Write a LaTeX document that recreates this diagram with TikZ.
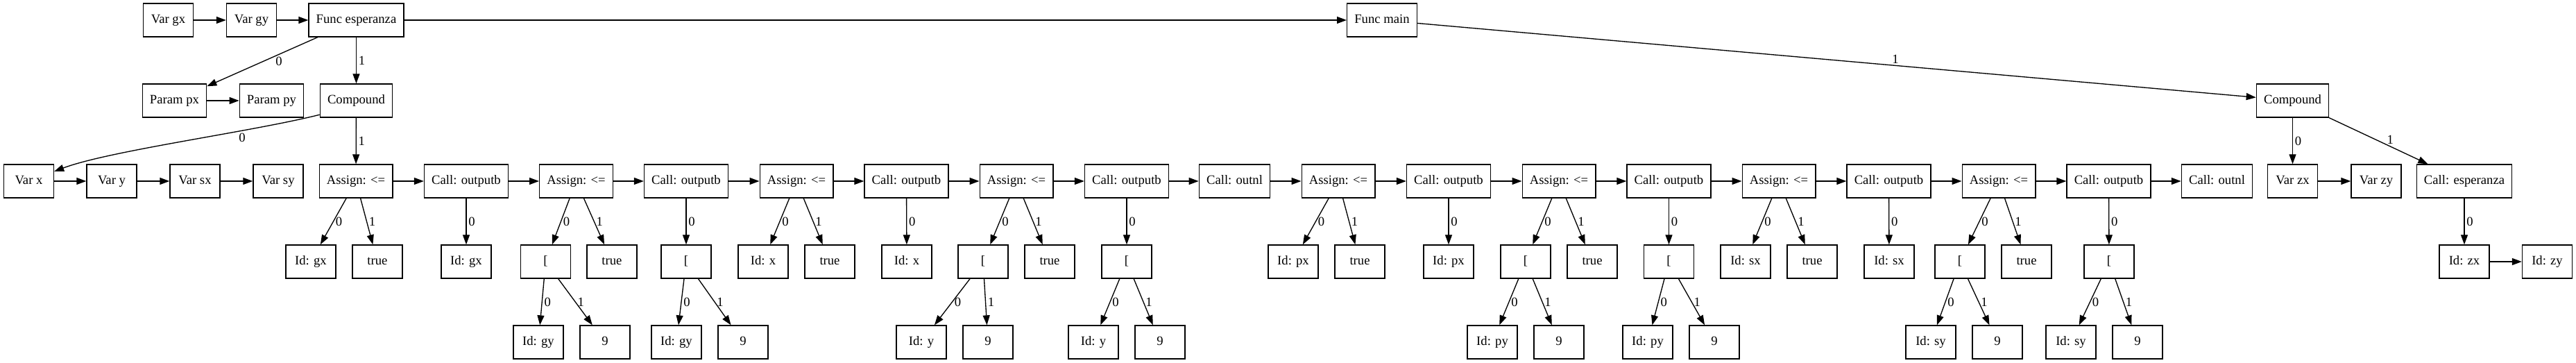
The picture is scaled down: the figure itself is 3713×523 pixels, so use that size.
\documentclass[tikz,border=0pt]{standalone}
\usepackage{fontspec}
\setmainfont{Liberation Serif}
\usepackage{tikz}
\usetikzlibrary{arrows.meta}

\begin{document}
\begin{tikzpicture}[x=0.75pt, y=-0.75pt]
    \tikzstyle{ast} = [
      draw=black,
      line width=1pt,
      anchor=center,
      align=center,
      minimum width=54pt,
      minimum height=36pt,
      inner xsep=8pt,
      text height=10.5pt,
      text depth=3pt,
      font=\fontsize{14pt}{17pt}\selectfont,
    ]
    \tikzstyle{arrow} = [
      line width=1pt,
      -{Triangle[length=10.5pt, width=7.5pt]},
      draw=black,
    ]
    \tikzstyle{lbl} = [
      anchor=west,
      inner sep=2pt,
      font=\fontsize{14pt}{17pt}\selectfont,
    ]

    \newcommand{\levelI}[0]{29}
    \newcommand{\levelII}[0]{145}
    \newcommand{\levelIII}[0]{261}
    \newcommand{\levelIV}[0]{377}
    \newcommand{\levelV}[0]{493}

    \useasboundingbox (0,0) rectangle (3713,523);

    % globals and functions
    {
      \node[ast] (varGx)    at (242.5,\levelI) {Var gx};
      \node[ast] (varGy)    at (362.5,\levelI) {Var gy};
      \node[ast] (funcEsp)  at (513.5,\levelI) {Func esperanza};
      \node[ast] (funcMain) at (1992,\levelI)  {Func main};
      \draw[arrow] (varGx) -- (varGy);
      \draw[arrow] (varGy) -- (funcEsp);
      \draw[arrow] (funcEsp) -- (funcMain);
    }

    % esperanza: params and body
    {
      \node[ast] (paramPx) at (251.5,\levelII) {Param px};
      \node[ast] (paramPy) at (391.5,\levelII) {Param py};
      \node[ast] (cmpEsp)  at (513.5,\levelII) {Compound};
      \draw[arrow] (funcEsp) -- node[lbl, pos=0.35, anchor=north] {0} (paramPx);
      \draw[arrow] (paramPx) -- (paramPy);
      \draw[arrow] (funcEsp) -- node[lbl] {1} (cmpEsp);
    }

    % local vars
    {
      \node[ast] (varX)  at (41.5,\levelIII) {Var x};
      \node[ast] (varY)  at (161,\levelIII)  {Var y};
      \node[ast] (varSx) at (281,\levelIII)  {Var sx};
      \node[ast] (varSy) at (401,\levelIII)  {Var sy};
      \draw[arrow] (cmpEsp.201) .. controls +(-100,25) and +(80,-30) ..
        node[lbl, pos=0.3, anchor=north] {0} (varX.21);
      \draw[arrow] (varX) -- (varY);
      \draw[arrow] (varY) -- (varSx);
      \draw[arrow] (varSx) -- (varSy);
    }

    % statements
    {
      \node[ast] (asgA)  at (513,\levelIII)    {Assign: <=};
      \node[ast] (callA) at (672,\levelIII)    {Call: outputb};
      \node[ast] (asgB)  at (830.5,\levelIII)  {Assign: <=};
      \node[ast] (callB) at (989,\levelIII)    {Call: outputb};
      \node[ast] (asgC)  at (1148,\levelIII)   {Assign: <=};
      \node[ast] (callC) at (1306.5,\levelIII) {Call: outputb};
      \node[ast] (asgD)  at (1465,\levelIII)   {Assign: <=};
      \node[ast] (callD) at (1624,\levelIII)   {Call: outputb};
      \node[ast] (outA)  at (1779.5,\levelIII) {Call: outnl};
      \node[ast] (asgE)  at (1929,\levelIII)   {Assign: <=};
      \node[ast] (callE) at (2088,\levelIII)   {Call: outputb};
      \node[ast] (asgF)  at (2247,\levelIII)   {Assign: <=};
      \node[ast] (callF) at (2405.5,\levelIII) {Call: outputb};
      \node[ast] (asgG)  at (2564,\levelIII)   {Assign: <=};
      \node[ast] (callG) at (2722.5,\levelIII) {Call: outputb};
      \node[ast] (asgH)  at (2881,\levelIII)   {Assign: <=};
      \node[ast] (callH) at (3039.5,\levelIII) {Call: outputb};
      \node[ast] (outB)  at (3195.5,\levelIII) {Call: outnl};

      \draw[arrow] (cmpEsp) -- node[lbl] {1} (asgA);
      \draw[arrow] (asgA) -- (callA);
      \draw[arrow] (callA) -- (asgB);
      \draw[arrow] (asgB) -- (callB);
      \draw[arrow] (callB) -- (asgC);
      \draw[arrow] (asgC) -- (callC);
      \draw[arrow] (callC) -- (asgD);
      \draw[arrow] (asgD) -- (callD);
      \draw[arrow] (callD) -- (outA);
      \draw[arrow] (outA) -- (asgE);
      \draw[arrow] (asgE) -- (callE);
      \draw[arrow] (callE) -- (asgF);
      \draw[arrow] (asgF) -- (callF);
      \draw[arrow] (callF) -- (asgG);
      \draw[arrow] (asgG) -- (callG);
      \draw[arrow] (callG) -- (asgH);
      \draw[arrow] (asgH) -- (callH);
      \draw[arrow] (callH) -- (outB);
    }

    % gx, gy
    {
      \node[ast] (idA)    at (448,\levelIV)   {Id: gx};
      \node[ast] (trueA)  at (544,\levelIV)   {true};
      \node[ast] (idAc)   at (672,\levelIV)   {Id: gx};
      \node[ast] (brkB)   at (786.5,\levelIV) {[};
      \node[ast] (trueB)  at (882,\levelIV)   {true};
      \node[ast] (brkBc)  at (989,\levelIV)   {[};
      \node[ast] (idB)    at (776,\levelV)    {Id: gy};
      \node[ast] (nineB)  at (872,\levelV)    {9};
      \node[ast] (idBc)   at (975,\levelV)    {Id: gy};
      \node[ast] (nineBc) at (1071,\levelV)   {9};

      \draw[arrow] (asgA) -- node[lbl] {0} (idA);
      \draw[arrow] (asgA) -- node[lbl] {1} (trueA);
      \draw[arrow] (callA) -- node[lbl] {0} (idAc);
      \draw[arrow] (asgB) -- node[lbl] {0} (brkB);
      \draw[arrow] (asgB) -- node[lbl] {1} (trueB);
      \draw[arrow] (brkB) -- node[lbl] {0} (idB);
      \draw[arrow] (brkB) -- node[lbl] {1} (nineB);
      \draw[arrow] (callB) -- node[lbl] {0} (brkBc);
      \draw[arrow] (brkBc) -- node[lbl] {0} (idBc);
      \draw[arrow] (brkBc) -- node[lbl] {1} (nineBc);
    }

    % x, y
    {
      \node[ast] (idC)    at (1100,\levelIV)  {Id: x};
      \node[ast] (trueC)  at (1196,\levelIV)  {true};
      \node[ast] (idCc)   at (1307,\levelIV)  {Id: x};
      \node[ast] (brkD)   at (1417,\levelIV)  {[};
      \node[ast] (trueD)  at (1513,\levelIV)  {true};
      \node[ast] (brkDc)  at (1624,\levelIV)  {[};
      \node[ast] (idD)    at (1328,\levelV)   {Id: y};
      \node[ast] (nineD)  at (1424,\levelV)   {9};
      \node[ast] (idDc)   at (1576,\levelV)   {Id: y};
      \node[ast] (nineDc) at (1672,\levelV)   {9};

      \draw[arrow] (asgC) -- node[lbl] {0} (idC);
      \draw[arrow] (asgC) -- node[lbl] {1} (trueC);
      \draw[arrow] (callC) -- node[lbl] {0} (idCc);
      \draw[arrow] (asgD) -- node[lbl] {0} (brkD);
      \draw[arrow] (asgD) -- node[lbl] {1} (trueD);
      \draw[arrow] (brkD) -- node[lbl] {0} (idD);
      \draw[arrow] (brkD) -- node[lbl] {1} (nineD);
      \draw[arrow] (callD) -- node[lbl] {0} (brkDc);
      \draw[arrow] (brkDc) -- node[lbl] {0} (idDc);
      \draw[arrow] (brkDc) -- node[lbl] {1} (nineDc);
    }

    % px, py
    {
      \node[ast] (idE)    at (1864,\levelIV)   {Id: px};
      \node[ast] (trueE)  at (1960,\levelIV)   {true};
      \node[ast] (idEc)   at (2088,\levelIV)   {Id: px};
      \node[ast] (brkF)   at (2199,\levelIV)   {[};
      \node[ast] (trueF)  at (2295,\levelIV)   {true};
      \node[ast] (brkFc)  at (2405.5,\levelIV) {[};
      \node[ast] (idF)    at (2151,\levelV)    {Id: py};
      \node[ast] (nineF)  at (2247,\levelV)    {9};
      \node[ast] (idFc)   at (2375,\levelV)    {Id: py};
      \node[ast] (nineFc) at (2471,\levelV)    {9};

      \draw[arrow] (asgE) -- node[lbl] {0} (idE);
      \draw[arrow] (asgE) -- node[lbl] {1} (trueE);
      \draw[arrow] (callE) -- node[lbl] {0} (idEc);
      \draw[arrow] (asgF) -- node[lbl] {0} (brkF);
      \draw[arrow] (asgF) -- node[lbl] {1} (trueF);
      \draw[arrow] (brkF) -- node[lbl] {0} (idF);
      \draw[arrow] (brkF) -- node[lbl] {1} (nineF);
      \draw[arrow] (callF) -- node[lbl] {0} (brkFc);
      \draw[arrow] (brkFc) -- node[lbl] {0} (idFc);
      \draw[arrow] (brkFc) -- node[lbl] {1} (nineFc);
    }

    % sx, sy
    {
      \node[ast] (idG)    at (2516,\levelIV)  {Id: sx};
      \node[ast] (trueG)  at (2612,\levelIV)  {true};
      \node[ast] (idGc)   at (2723,\levelIV)  {Id: sx};
      \node[ast] (brkH)   at (2825,\levelIV)  {[};
      \node[ast] (trueH)  at (2921,\levelIV)  {true};
      \node[ast] (brkHc)  at (3040,\levelIV)  {[};
      \node[ast] (idH)    at (2783,\levelV)   {Id: sy};
      \node[ast] (nineH)  at (2879,\levelV)   {9};
      \node[ast] (idHc)   at (2985,\levelV)   {Id: sy};
      \node[ast] (nineHc) at (3081,\levelV)   {9};

      \draw[arrow] (asgG) -- node[lbl] {0} (idG);
      \draw[arrow] (asgG) -- node[lbl] {1} (trueG);
      \draw[arrow] (callG) -- node[lbl] {0} (idGc);
      \draw[arrow] (asgH) -- node[lbl] {0} (brkH);
      \draw[arrow] (asgH) -- node[lbl] {1} (trueH);
      \draw[arrow] (brkH) -- node[lbl] {0} (idH);
      \draw[arrow] (brkH) -- node[lbl] {1} (nineH);
      \draw[arrow] (callH) -- node[lbl] {0} (brkHc);
      \draw[arrow] (brkHc) -- node[lbl] {0} (idHc);
      \draw[arrow] (brkHc) -- node[lbl] {1} (nineHc);
    }

    % main
    {
      \node[ast] (cmpMain) at (3304.5,\levelII) {Compound};
      \node[ast] (varZx)   at (3304.5,\levelIII) {Var zx};
      \node[ast] (varZy)   at (3425,\levelIII)   {Var zy};
      \node[ast] (callEsp) at (3552,\levelIII)   {Call: esperanza};
      \node[ast] (idZx)    at (3552,\levelIV)    {Id: zx};
      \node[ast] (idZy)    at (3671.5,\levelIV)  {Id: zy};

      \draw[arrow] (funcMain) -- node[lbl, pos=0.57, anchor=south] {1} (cmpMain);
      \draw[arrow] (cmpMain) -- node[lbl] {0} (varZx);
      \draw[arrow] (varZx) -- (varZy);
      \draw[arrow] (cmpMain) -- node[lbl, pos=0.62, anchor=south] {1} (callEsp);
      \draw[arrow] (callEsp) -- node[lbl] {0} (idZx);
      \draw[arrow] (idZx) -- (idZy);
    }
\end{tikzpicture}
\end{document}
